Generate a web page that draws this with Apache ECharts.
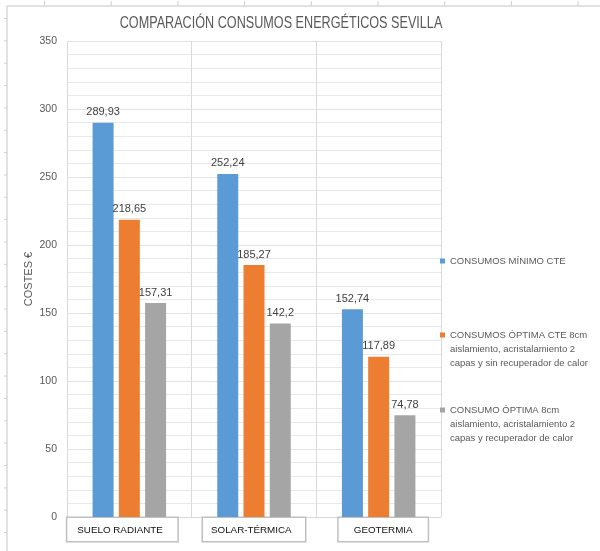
<!DOCTYPE html>
<html>
<head>
<meta charset="utf-8">
<script src="https://cdn.jsdelivr.net/npm/echarts@6/dist/echarts.min.js"></script>
<style>
html,body{margin:0;padding:0;background:#fff;}
#chart{width:600px;height:551px;}
</style>
</head>
<body>
<div id="chart"></div>
<script>
const titleText = 'COMPARACIÓN CONSUMOS ENERGÉTICOS SEVILLA';
const categories = ['SUELO RADIANTE', 'SOLAR-TÉRMICA', 'GEOTERMIA'];
const seriesNames = [
  'CONSUMOS MÍNIMO CTE',
  'CONSUMOS ÓPTIMA CTE 8cm aislamiento, acristalamiento 2 capas y sin recuperador de calor',
  'CONSUMO ÓPTIMA 8cm aislamiento, acristalamiento 2 capas y recuperador de calor'
];
const legendLines = [
  ['CONSUMOS MÍNIMO CTE'],
  ['CONSUMOS ÓPTIMA CTE 8cm', 'aislamiento, acristalamiento 2', 'capas y sin recuperador de calor'],
  ['CONSUMO ÓPTIMA 8cm', 'aislamiento, acristalamiento 2', 'capas y recuperador de calor']
];
const minimoCTE = [289.93, 252.24, 152.74];
const optimaSinRecuperador = [218.65, 185.27, 117.89];
const optimaConRecuperador = [157.31, 142.2, 74.78];
const yTicks = [0, 50, 100, 150, 200, 250, 300, 350];
const colors = ['#5B9BD5', '#ED7D31', '#A5A5A5'];

const seriesValues = [minimoCTE, optimaSinRecuperador, optimaConRecuperador];

const chart = echarts.init(document.getElementById('chart'), null, {renderer: 'canvas'});

const fmtComma = v => String(v).replace('.', ',');

// Spreadsheet frame decoration and condensed title
const graphics = [
  {type: 'line', shape: {x1: 7, y1: 6, x2: 600, y2: 6}, style: {stroke: '#d9d9d9', lineWidth: 1.5}, silent: true},
  {type: 'line', shape: {x1: 7, y1: 6, x2: 7, y2: 551}, style: {stroke: '#d9d9d9', lineWidth: 1.5}, silent: true},
  {
    type: 'text', x: 281, y: 23, scaleX: 0.743, silent: true,
    style: {
      text: titleText, align: 'center', verticalAlign: 'middle',
      fontFamily: 'Liberation Sans', fontSize: 17, fill: '#595959'
    }
  }
];
for (let k = 0; k < 9; k++) {
  const x = 44.5 + k * 66.7;
  graphics.push({type: 'line', shape: {x1: x, y1: 1, x2: x, y2: 6}, style: {stroke: '#d0d0d0', lineWidth: 1}, silent: true});
}
for (let k = 0; k < 24; k++) {
  const y = 18.5 + k * 22.35;
  graphics.push({type: 'line', shape: {x1: 4, y1: y, x2: 7, y2: y}, style: {stroke: '#d0d0d0', lineWidth: 1}, silent: true});
}

const topIcon = 'path://M0,0L10,0L10,10L0,10Z M0,65.9L0.1,65.9L0.1,66L0,66Z';
const legendTops = [254, 328, 403];
const legends = seriesNames.map((name, i) => ({
  data: [name],
  orient: 'vertical',
  left: 440,
  top: legendTops[i],
  padding: 0,
  selectedMode: false,
  icon: i === 0 ? 'rect' : topIcon,
  itemWidth: 5,
  itemHeight: i === 0 ? 5 : 33,
  formatter: () => legendLines[i].join('\n'),
  textStyle: {fontFamily: 'Liberation Sans', fontSize: 9.5, color: '#595959', lineHeight: 14}
}));

const boxStyle = (w, pad) => ({
  width: w, align: 'left',
  padding: [7, pad, 6, pad],
  borderColor: '#c0c0c0', borderWidth: 1.5, backgroundColor: '#fff',
  fontFamily: 'Liberation Sans', fontSize: 9.8, color: '#111'
});

const option = {
  animation: false,
  backgroundColor: '#fff',
  color: colors,
  legend: legends,
  grid: {left: 67, right: 159, top: 41, bottom: 34, containLabel: false},
  xAxis: {
    type: 'category',
    data: categories,
    axisLine: {show: true, lineStyle: {color: '#d9d9d9', width: 1}},
    axisTick: {show: false},
    splitLine: {show: true, lineStyle: {color: '#d9d9d9', width: 1}},
    axisLabel: {
      margin: 1,
      interval: 0,
      formatter: (v, i) => i === 0 ? '{b0|' + v + '}{s0| }' : (i === 1 ? '{b1|' + v + '}' : '{s2| }{b2|' + v + '}'),
      rich: {
        b0: boxStyle(90, 10),
        b1: boxStyle(86, 8),
        b2: boxStyle(71, 9),
        s0: {width: 14},
        s2: {width: 9}
      }
    }
  },
  yAxis: {
    type: 'value',
    min: yTicks[0], max: yTicks[yTicks.length - 1], interval: yTicks[1] - yTicks[0],
    name: 'COSTES €',
    nameLocation: 'middle',
    nameGap: 33,
    nameMoveOverlap: false,
    nameRotate: 90,
    nameTextStyle: {fontFamily: 'Liberation Sans', fontSize: 11, color: '#595959'},
    axisLine: {show: false},
    axisTick: {show: false},
    axisLabel: {margin: 10, fontFamily: 'Liberation Sans', fontSize: 10.5, color: '#595959'},
    splitLine: {show: true, lineStyle: {color: '#e3e3e3', width: 1}},
    minorTick: {show: false, splitNumber: 5},
    minorSplitLine: {show: true, lineStyle: {color: '#e8e8e8', width: 1}}
  },
  series: seriesNames.map((name, i) => ({
    name: name,
    type: 'bar',
    data: seriesValues[i],
    barWidth: 21,
    barGap: '25%',
    itemStyle: {color: colors[i]},
    label: {
      show: true, position: 'top', distance: 5,
      formatter: p => fmtComma(p.value),
      fontFamily: 'Liberation Sans', fontSize: 11, color: '#404040'
    }
  })),
  graphic: graphics
};
chart.setOption(option);
</script>
</body>
</html>
